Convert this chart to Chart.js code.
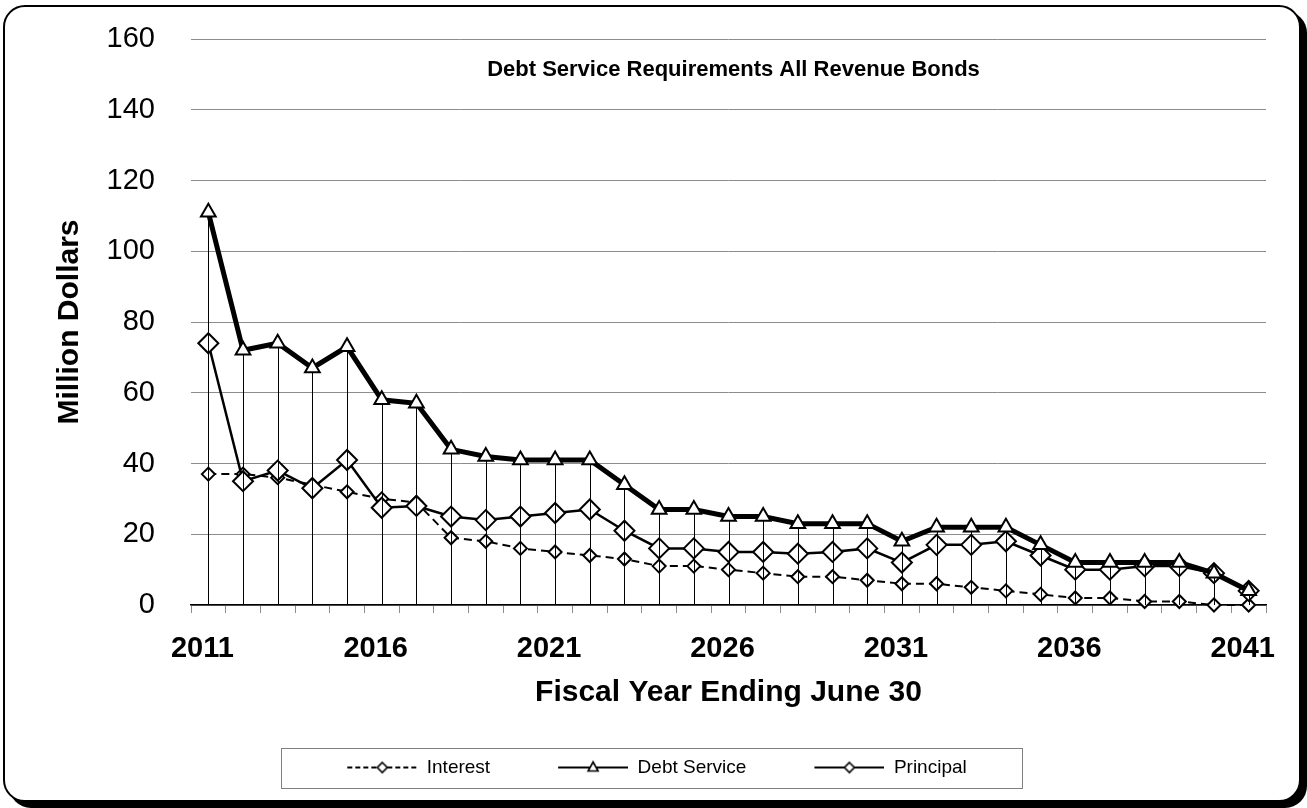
<!DOCTYPE html>
<html>
<head>
<meta charset="utf-8">
<title>Debt Service Requirements All Revenue Bonds</title>
<script src="https://cdn.jsdelivr.net/npm/chart.js@4.4.1/dist/chart.umd.min.js"></script>
<style>
  html, body { margin: 0; padding: 0; background: #fff; }
  body { width: 1307px; height: 808px; position: relative; overflow: hidden; }
  #frame {
    position: absolute; left: 3px; top: 5px;
    width: 1298px; height: 797px; box-sizing: border-box;
    border: 2px solid #000; border-radius: 22px;
    box-shadow: 6px 6px 0 #000; background: #fff;
  }
  #myChart { position: absolute; left: 0; top: 0; }
</style>
</head>
<body>
<div id="frame"></div>
<canvas id="myChart" width="1307" height="808"></canvas>
<script>
// fiscal years 2011 - 2041, values in million dollars
const years = [
    '2011', '2012', '2013', '2014', '2015', '2016', '2017', '2018', '2019', '2020',
    '2021', '2022', '2023', '2024', '2025', '2026', '2027', '2028', '2029', '2030',
    '2031', '2032', '2033', '2034', '2035', '2036', '2037', '2038', '2039', '2040',
    '2041'
]

const interest = [
    37, 37, 36, 34, 32, 30, 29, 19, 18, 16,
    15, 14, 13, 11, 11, 10, 9, 8, 8, 7,
    6, 6, 5, 4, 3, 2, 2, 1, 1, 0,
    0
]

const debtService = [
    111, 72, 74, 67, 73, 58, 57, 44, 42, 41,
    41, 41, 34, 27, 27, 25, 25, 23, 23, 23,
    18, 22, 22, 22, 17, 12, 12, 12, 12, 9,
    4
]

const principal = [
    74, 35, 38, 33, 41, 27.5, 28, 25, 24, 25,
    26, 27, 21, 16, 16, 15, 15, 14.5, 15, 16,
    12, 17, 17, 18, 14, 10, 10, 11, 11, 9,
    4
]

const yTicks = [0, 20, 40, 60, 80, 100, 120, 140, 160]

const FONT = "'Liberation Sans', Arial, Helvetica, sans-serif"
Chart.defaults.font.family = FONT
Chart.defaults.color = '#000'

// little line + marker samples for the legend
function legendIcon(kind) {
    const pad = 48, w = 70, h = 16
    const c = document.createElement('canvas')
    c.width = pad + w
    c.height = h
    const g = c.getContext('2d')
    const cy = h / 2
    g.strokeStyle = '#000'
    g.lineWidth = 2
    if (kind === 'dash') g.setLineDash([5, 3])
    g.beginPath()
    g.moveTo(pad, cy)
    g.lineTo(pad + w, cy)
    g.stroke()
    g.setLineDash([])
    const cx = pad + w / 2
    g.fillStyle = '#fff'
    g.lineWidth = 1.6
    g.beginPath()
    if (kind === 'tri') {
        g.moveTo(cx, cy - 5.5)
        g.lineTo(cx + 5, cy + 3.5)
        g.lineTo(cx - 5, cy + 3.5)
    } else {
        g.moveTo(cx, cy - 5)
        g.lineTo(cx + 5, cy)
        g.lineTo(cx, cy + 5)
        g.lineTo(cx - 5, cy)
    }
    g.closePath()
    g.fill()
    g.stroke()
    return c
}

const icons = [legendIcon('dash'), legendIcon('tri'), legendIcon('solid')]

// thin vertical lines from every debt service point down to the axis
const dropLines = {
    id: 'dropLines',
    afterDatasetDraw(chart, args) {
        if (args.index !== 2) return
        const ctx = chart.ctx
        const meta = chart.getDatasetMeta(1)
        const y0 = chart.scales.y.getPixelForValue(0)
        ctx.save()
        ctx.strokeStyle = '#000'
        ctx.lineWidth = 1
        ctx.beginPath()
        meta.data.forEach(pt => {
            const x = Math.round(pt.x) + 0.5
            ctx.moveTo(x, pt.y)
            ctx.lineTo(x, y0)
        })
        ctx.stroke()
        ctx.restore()
    }
}

// chart title sits inside the plot area
const innerTitle = {
    id: 'innerTitle',
    afterDraw(chart, args, opts) {
        const {ctx, chartArea} = chart
        ctx.save()
        ctx.font = 'bold 22px ' + FONT
        ctx.fillStyle = '#000'
        ctx.textAlign = 'center'
        ctx.textBaseline = 'middle'
        ctx.fillText(opts.text, (chartArea.left + chartArea.right) / 2 + 5, chartArea.top + 31)
        ctx.restore()
    }
}

// box around the legend row
const legendBox = {
    id: 'legendBox',
    afterDraw(chart) {
        const boxes = chart.legend.legendHitBoxes
        if (!boxes || !boxes.length) return
        const first = boxes[0], last = boxes[boxes.length - 1]
        const cy = first.top + first.height / 2
        const ctx = chart.ctx
        ctx.save()
        ctx.strokeStyle = '#808080'
        ctx.lineWidth = 1
        ctx.strokeRect(Math.round(first.left - 18) + 0.5, Math.round(cy - 20) + 0.5,
            Math.round(last.left + last.width + 56 - (first.left - 18)), 40)
        ctx.restore()
    }
}

const graph_data = {
    labels: years,
    datasets: [{
        label: 'Interest',
        data: interest,
        borderColor: '#000',
        borderWidth: 2,
        borderDash: [8, 5],
        pointStyle: 'rectRot',
        pointRadius: 6.5,
        pointBorderWidth: 2,
        pointBackgroundColor: '#fff',
        pointBorderColor: '#000',
        order: 2,
        clip: false
    }, {
        label: 'Debt Service',
        data: debtService,
        borderColor: '#000',
        borderWidth: 5,
        pointStyle: 'triangle',
        pointRadius: 8.5,
        pointBorderWidth: 2,
        pointBackgroundColor: '#fff',
        pointBorderColor: '#000',
        order: 0,
        clip: false
    }, {
        label: 'Principal',
        data: principal,
        borderColor: '#000',
        borderWidth: 2.5,
        pointStyle: 'rectRot',
        pointRadius: 10,
        pointBorderWidth: 2,
        pointBackgroundColor: '#fff',
        pointBorderColor: '#000',
        order: 1,
        clip: false
    }]
}

const config = {
    type: 'line',
    data: graph_data,
    options: {
        responsive: false,
        animation: false,
        devicePixelRatio: 1,
        layout: {
            padding: {left: 0, right: 41, top: 39, bottom: 21}
        },
        scales: {
            x: {
                offset: true,
                grid: {
                    offset: true,
                    drawOnChartArea: false,
                    drawTicks: true,
                    tickLength: 8,
                    color: '#8c8c8c'
                },
                border: {display: true, color: '#000', width: 1.5},
                ticks: {
                    autoSkip: false,
                    maxRotation: 0,
                    padding: 19,
                    labelOffset: -6,
                    font: {size: 29, weight: 'bold'},
                    callback: function (val, idx) {
                        return idx % 5 === 0 ? this.getLabelForValue(val) : ''
                    }
                },
                title: {
                    display: true,
                    text: 'Fiscal Year Ending June 30',
                    font: {size: 30, weight: 'bold'},
                    padding: {top: 0, bottom: 27}
                },
                afterFit(scale) { scale.height = 133 }
            },
            y: {
                min: yTicks[0],
                max: yTicks[yTicks.length - 1],
                afterBuildTicks(scale) { scale.ticks = yTicks.map(v => ({value: v})) },
                // invisible tick marks keep the labels clear of the plot
                grid: {
                    color: '#8c8c8c',
                    lineWidth: 1,
                    drawTicks: true,
                    tickLength: 36,
                    tickColor: 'rgba(0,0,0,0)'
                },
                border: {display: false},
                ticks: {
                    padding: 0,
                    font: {size: 29}
                },
                title: {
                    display: true,
                    text: 'Million Dollars',
                    font: {size: 30, weight: 'bold'},
                    padding: {top: 52, bottom: 0}
                },
                afterFit(scale) { scale.width = 191 }
            }
        },
        plugins: {
            tooltip: {enabled: false},
            innerTitle: {text: 'Debt Service Requirements All Revenue Bonds'},
            legend: {
                position: 'bottom',
                labels: {
                    usePointStyle: true,
                    pointStyleWidth: 118,
                    padding: 20,
                    color: '#000',
                    font: {size: 19},
                    sort: (a, b) => a.datasetIndex - b.datasetIndex,
                    generateLabels(chart) {
                        const items = Chart.defaults.plugins.legend.labels.generateLabels(chart)
                        items.forEach(it => { it.pointStyle = icons[it.datasetIndex] })
                        return items
                    }
                }
            }
        }
    },
    plugins: [dropLines, innerTitle, legendBox]
}

var ctx = document.getElementById('myChart').getContext('2d')
var myChart = new Chart(ctx, config)
</script>
</body>
</html>
